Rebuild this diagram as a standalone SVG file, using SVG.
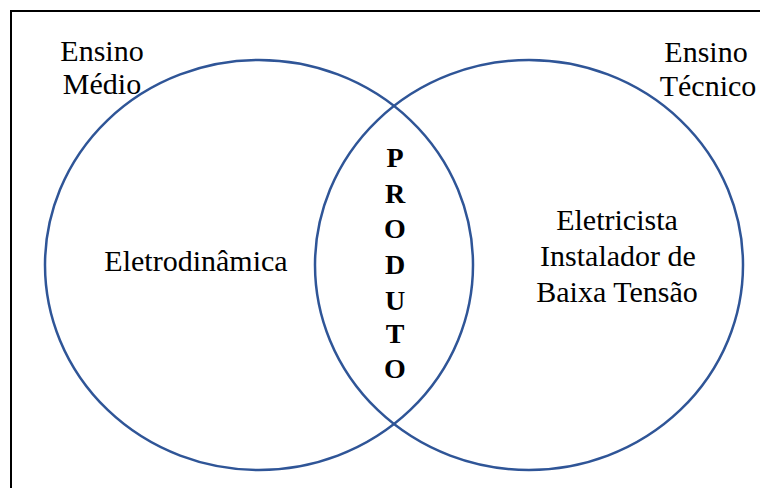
<svg xmlns="http://www.w3.org/2000/svg" width="760" height="488" viewBox="0 0 760 488">
<style>
.lbl{font-family:'Liberation Serif','DejaVu Serif',serif;font-size:30px;fill:#000;text-anchor:middle}
.prod{font-family:'Liberation Serif','DejaVu Serif',serif;font-size:28px;font-weight:bold;fill:#000;text-anchor:middle}
.set{fill:none;stroke:#2F5597;stroke-width:2.5}
</style>
<rect x="0" y="0" width="760" height="488" fill="#fff"/>
<rect x="11" y="11" width="770" height="500" fill="none" stroke="#000" stroke-width="2"/>
<g id="ensino-medio">
<ellipse class="set" cx="259" cy="265" rx="214" ry="205"/>
<text class="lbl" x="102" y="61">Ensino</text>
<text class="lbl" x="102" y="94">Médio</text>
<text class="lbl" x="196" y="271">Eletrodinâmica</text>
</g>
<g id="ensino-tecnico">
<ellipse class="set" cx="529" cy="265" rx="214" ry="205"/>
<text class="lbl" x="706" y="62">Ensino</text>
<text class="lbl" x="708" y="96">Técnico</text>
<text class="lbl" x="617" y="230">Eletricista</text>
<text class="lbl" x="618" y="266">Instalador de</text>
<text class="lbl" x="617" y="302">Baixa Tensão</text>
</g>
<g id="produto">
<text class="prod" x="395" y="167">P</text>
<text class="prod" x="395" y="203">R</text>
<text class="prod" x="395" y="238">O</text>
<text class="prod" x="395" y="274">D</text>
<text class="prod" x="395" y="310">U</text>
<text class="prod" x="395" y="343">T</text>
<text class="prod" x="395" y="378">O</text>
</g>
<g id="connectors"/>
</svg>
